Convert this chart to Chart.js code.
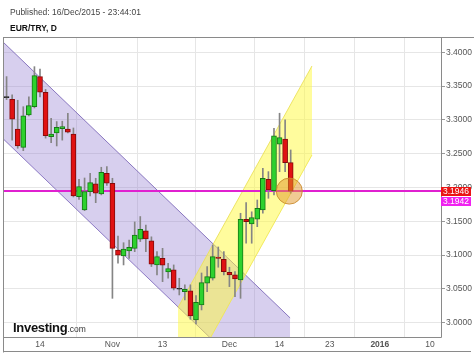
<!DOCTYPE html>
<html><head><meta charset="utf-8">
<script src="https://cdn.jsdelivr.net/npm/chart.js@4.4.0/dist/chart.umd.min.js"></script>
<style>
html,body{margin:0;padding:0;background:#fff;}
#wrap{position:relative;width:474px;height:355px;overflow:hidden;font-family:"Liberation Sans",Arial,sans-serif;}
#c{position:absolute;left:0;top:0;}
#pub{position:absolute;left:10px;top:8px;font-size:8.5px;line-height:1;color:#444;white-space:nowrap;}
#sym{position:absolute;left:10px;top:24px;font-size:8.5px;line-height:1;font-weight:bold;color:#111;white-space:nowrap;}
#logo{position:absolute;left:13px;top:319px;line-height:1;color:#111;white-space:nowrap;}
#logo b{font-size:13px;letter-spacing:-0.3px;}
#logo span{font-size:8.5px;color:#333;}
</style></head>
<body>
<div id="wrap">
<canvas id="c" width="474" height="355"></canvas>
<div id="pub">Published: 16/Dec/2015 - 23:44:01</div>
<div id="sym">EUR/TRY, D</div>
<div id="logo"><b>Investing</b><span>.com</span></div>
</div>
<script>
// ---- data (slot index: trading days counted from 14 Oct 2015 = 0) ----
const firstSlot = -6;
const open  = [3.333,3.3305,3.2865,3.2594,3.3072,3.3195,3.364,3.3408,3.2752,3.2806,3.287,3.2865,3.279,3.1864,3.1667,3.1938,3.2052,3.1904,3.221,3.2062,3.1075,3.0987,3.106,3.110,3.1234,3.1357,3.1209,3.0854,3.0953,3.075,3.078,3.0494,3.0459,3.047,3.004,3.0262,3.0583,3.0657,3.097,3.0938,3.0746,3.0706,3.0632,3.153,3.146,3.153,3.1667,3.2121,3.1953,3.2639,3.2717,3.2367];
const high  = [3.364,3.337,3.329,3.3195,3.334,3.3787,3.375,3.345,3.3024,3.2975,3.298,3.3097,3.288,3.2121,3.214,3.221,3.2136,3.2299,3.231,3.2136,3.128,3.1183,3.122,3.149,3.157,3.1445,3.127,3.105,3.110,3.0879,3.0854,3.0657,3.0558,3.056,3.040,3.0735,3.083,3.115,3.112,3.105,3.082,3.0754,3.1618,3.1775,3.164,3.1815,3.2284,3.2234,3.2876,3.3098,3.2999,3.2555];
const low   = [3.330,3.270,3.258,3.2544,3.3058,3.3176,3.334,3.273,3.2663,3.2614,3.270,3.2806,3.186,3.1825,3.1657,3.1874,3.1775,3.189,3.203,3.036,3.0879,3.0854,3.095,3.105,3.120,3.105,3.083,3.0706,3.0607,3.0657,3.0484,3.041,3.0336,3.005,2.998,3.0188,3.046,3.063,3.082,3.0706,3.0533,3.0385,3.036,3.1175,3.1175,3.142,3.1618,3.184,3.189,3.2234,3.2234,3.1914];
const close = [3.333,3.301,3.2614,3.3058,3.321,3.3654,3.3408,3.2766,3.2791,3.289,3.290,3.2817,3.1874,3.2012,3.194,3.2071,3.1914,3.2225,3.2062,3.110,3.100,3.109,3.1115,3.1297,3.138,3.1238,3.0864,3.0976,3.0849,3.0799,3.0509,3.0494,3.0494,3.010,3.030,3.0592,3.068,3.0976,3.095,3.0754,3.0706,3.0646,3.153,3.1494,3.1553,3.169,3.2136,3.1963,3.2762,3.2737,3.2367,3.1946];

// tick labels
const xTickPos    = [0, 13, 22, 34, 43, 52, 61, 70];
const xTickLabels = ['14','Nov','13','Dec','14','23','2016','10'];
const yTickValues = [3.00,3.05,3.10,3.15,3.20,3.25,3.30,3.35,3.40];

// drawings
const purpleX = [-8, 44.9];
const purpleUpper = [3.426, 3.007];
const purpleLower = [3.283, 2.864];
const yellowX = [24.77, 48.82];
const yellowUpper = [3.0223, 3.3797];
const yellowLower = [2.8914, 3.2481];
const hLineX = [-8, 75];
const hLinePrice = 3.1946;
const hLineLabel = 3.1942;
const lastPrice = 3.1946;
const circleX = 44.75, circleY = 3.1946;

// ---- build ----
const slots = open.map((_, i) => firstSlot + i);
const wickData = slots.map((x, i) => ({x, y: [low[i], high[i]]}));
const bodyData = slots.map((x, i) => ({x, y: [open[i], close[i]]}));
const upFill = '#2ed12e', upLine = '#157a15', dnFill = '#e01212', dnLine = '#850a0a', dojiC = '#222';
const bodyFill = open.map((o, i) => close[i] > o ? upFill : close[i] < o ? dnFill : dojiC);
const bodyLine = open.map((o, i) => close[i] > o ? upLine : close[i] < o ? dnLine : dojiC);
const pts = (xs, ys) => xs.map((x, i) => ({x, y: ys[i]}));

const FONT = '"Liberation Sans", Arial, sans-serif';

const framePlugin = {
  id: 'frame',
  afterDraw(chart) {
    const {ctx, chartArea: a, scales: {y}} = chart;
    ctx.save();
    ctx.strokeStyle = '#8a8a8a';
    ctx.lineWidth = 1;
    ctx.beginPath();
    ctx.moveTo(3, 37.5); ctx.lineTo(474, 37.5);
    ctx.moveTo(3.5, 37.5); ctx.lineTo(3.5, 352.5);
    ctx.moveTo(3, 351.5); ctx.lineTo(471, 351.5);
    ctx.moveTo(Math.round(a.right) + 0.5, 37.5); ctx.lineTo(Math.round(a.right) + 0.5, Math.round(a.bottom) + 0.5);
    ctx.moveTo(3, Math.round(a.bottom) + 0.5); ctx.lineTo(Math.round(a.right) + 0.5, Math.round(a.bottom) + 0.5);
    ctx.stroke();
    // price labels
    ctx.font = '8.5px ' + FONT;
    ctx.textBaseline = 'middle';
    ctx.textAlign = 'left';
    const t1 = lastPrice.toFixed(4), t2 = hLineLabel.toFixed(4);
    const py = y.getPixelForValue(lastPrice);
    const bx = Math.round(a.right);
    const bw = Math.ceil(Math.max(ctx.measureText(t1).width, ctx.measureText(t2).width)) + 4, bh = 9;
    ctx.fillStyle = '#ea1515';
    ctx.fillRect(bx, Math.round(py - bh / 2), bw, bh);
    ctx.fillStyle = '#fff';
    ctx.fillText(t1, bx + 2, Math.round(py) + 0.5);
    const my = Math.round(py - bh / 2) + bh + 1;
    ctx.fillStyle = '#f022f0';
    ctx.fillRect(bx, my, bw, bh);
    ctx.fillStyle = '#fff';
    ctx.fillText(t2, bx + 2, my + bh / 2 + 0.5);
    ctx.restore();
  }
};

new Chart(document.getElementById('c'), {
  type: 'bar',
  data: {
    datasets: [
      {type: 'line', data: pts(purpleX, purpleLower), borderColor: 'rgba(125,105,185,0.9)', borderWidth: 1, pointRadius: 0, fill: false, order: 20},
      {type: 'line', data: pts(purpleX, purpleUpper), borderColor: 'rgba(125,105,185,0.9)', borderWidth: 1, pointRadius: 0, fill: '-1', backgroundColor: 'rgba(150,130,210,0.38)', order: 19},
      {type: 'line', data: pts(yellowX, yellowLower), borderColor: 'rgba(235,225,90,0.9)', borderWidth: 1, pointRadius: 0, fill: false, order: 18},
      {type: 'line', data: pts(yellowX, yellowUpper), borderColor: 'rgba(235,225,90,0.9)', borderWidth: 1, pointRadius: 0, fill: '-1', backgroundColor: 'rgba(255,250,60,0.5)', order: 17},
      {type: 'line', data: pts(hLineX, [hLinePrice, hLinePrice]), borderColor: '#e020d0', borderWidth: 2, pointRadius: 0, fill: false, order: 16},
      {type: 'bar', data: wickData, backgroundColor: '#858585', borderWidth: 0, barThickness: 1, grouped: false, order: 10},
      {type: 'bar', data: bodyData, backgroundColor: bodyFill, borderColor: bodyLine, borderWidth: 1, borderSkipped: false, barThickness: 5, minBarLength: 1, grouped: false, order: 9},
      {type: 'scatter', data: [{x: circleX, y: circleY}], pointRadius: 13, backgroundColor: 'rgba(225,150,40,0.5)', borderColor: 'rgba(200,135,40,0.85)', borderWidth: 1, order: 1}
    ]
  },
  options: {
    responsive: false,
    animation: false,
    devicePixelRatio: 1,
    layout: {autoPadding: false, padding: {left: 3, top: 38, right: 0, bottom: 3}},
    plugins: {legend: {display: false}, tooltip: {enabled: false}},
    scales: {
      x: {
        type: 'linear', min: -6.641, max: 71.98, offset: false,
        afterFit: s => { s.height = 15; s.paddingLeft = 0; s.paddingRight = 0; },
        afterBuildTicks: s => { s.ticks = xTickPos.map(v => ({value: v})); },
        grid: {color: '#e6e6e6', drawTicks: false},
        border: {display: false},
        ticks: {
          autoSkip: false, maxRotation: 0, padding: 3, color: '#555',
          font: c => ({family: FONT, size: 8.5, weight: (c.tick && c.tick.label === '2016') ? 'bold' : 'normal'}),
          callback: (v, i) => xTickLabels[i]
        }
      },
      y: {
        type: 'linear', position: 'right', min: 2.9788, max: 3.4211,
        afterFit: s => { s.width = 33; s.paddingTop = 0; s.paddingBottom = 0; },
        afterBuildTicks: s => { s.ticks = yTickValues.map(v => ({value: v})); },
        grid: {color: '#e6e6e6', tickColor: '#999', tickLength: 4, drawTicks: true},
        border: {display: false},
        ticks: {padding: 1, color: '#555', font: {family: FONT, size: 8.5}, callback: v => Number(v).toFixed(4)}
      }
    }
  },
  plugins: [framePlugin]
});
</script>
</body></html>
